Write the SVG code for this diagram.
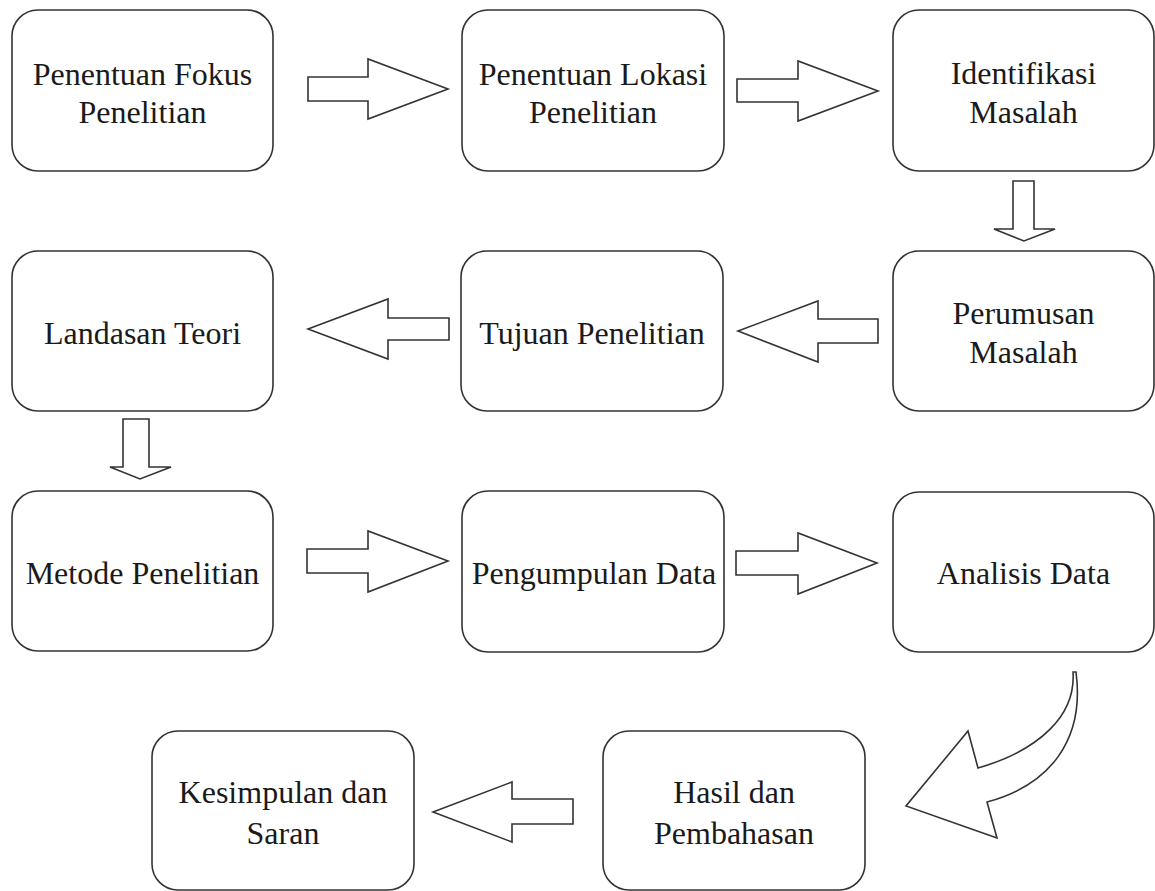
<svg xmlns="http://www.w3.org/2000/svg" width="1155" height="891" viewBox="0 0 1155 891">
<style>
.box{fill:#fff;stroke:#333;stroke-width:1.6}
.arr{fill:#fff;stroke:#333;stroke-width:1.6;stroke-linejoin:miter}
.t{font-family:'Liberation Serif',Tinos,'Times New Roman','DejaVu Serif',serif;font-size:32px;fill:#1a1a1a;text-anchor:middle}
</style>
<rect width="1155" height="891" fill="#fff"/>
<g id="n1"><rect class="box" x="12" y="10" width="261" height="161" rx="26"/><text class="t" x="142.5" y="85">Penentuan Fokus</text><text class="t" x="142.5" y="123">Penelitian</text></g>
<g id="n2"><rect class="box" x="462" y="10" width="262" height="161" rx="26"/><text class="t" x="593" y="85">Penentuan Lokasi</text><text class="t" x="593" y="123">Penelitian</text></g>
<g id="n3"><rect class="box" x="893" y="10" width="261" height="161" rx="26"/><text class="t" x="1023.5" y="84">Identifikasi</text><text class="t" x="1023.5" y="123">Masalah</text></g>
<g id="n4"><rect class="box" x="893" y="251" width="261" height="160" rx="26"/><text class="t" x="1023.5" y="324">Perumusan</text><text class="t" x="1023.5" y="363">Masalah</text></g>
<g id="n5"><rect class="box" x="461" y="251" width="262" height="160" rx="26"/><text class="t" x="592" y="344">Tujuan Penelitian</text></g>
<g id="n6"><rect class="box" x="12" y="251" width="261" height="160" rx="26"/><text class="t" x="142.5" y="344">Landasan Teori</text></g>
<g id="n7"><rect class="box" x="12" y="491" width="261" height="160" rx="26"/><text class="t" x="142.5" y="584">Metode Penelitian</text></g>
<g id="n8"><rect class="box" x="462" y="491" width="262" height="161" rx="26"/><text class="t" x="594" y="584">Pengumpulan Data</text></g>
<g id="n9"><rect class="box" x="893" y="492" width="261" height="160" rx="26"/><text class="t" x="1023.5" y="584">Analisis Data</text></g>
<g id="n10"><rect class="box" x="603" y="731" width="262" height="159" rx="26"/><text class="t" x="734" y="803">Hasil dan</text><text class="t" x="734" y="844">Pembahasan</text></g>
<g id="n11"><rect class="box" x="152" y="731" width="262" height="159" rx="26"/><text class="t" x="283" y="803">Kesimpulan dan</text><text class="t" x="283" y="844">Saran</text></g>
<g id="connectors">
<polygon class="arr" points="308,77 368,77 368,59 448,89 368,119 368,101 308,101"/>
<polygon class="arr" points="737,79 798,79 798,61 878,91 798,121 798,102 737,102"/>
<polygon class="arr" points="1013,181 1034,181 1034,229 1055,229 1024,241 994,229 1013,229"/>
<polygon class="arr" points="878,319 818,319 818,301 738,331 818,362 818,343 878,343"/>
<polygon class="arr" points="449,318 388,318 388,299 308,329 388,359 388,340 449,340"/>
<polygon class="arr" points="123,419 149,419 149,467 171,467 140,479 110,467 123,467"/>
<polygon class="arr" points="307,549 368,549 368,531 448,561 368,592 368,573 307,573"/>
<polygon class="arr" points="736,551 798,551 798,533 877,563 798,594 798,575 736,575"/>
<path class="arr" d="M1073,672 C1076,715 1040,750 978,768 L968,731 L906,806 L997,838 L987,802 C1050,785 1085,740 1076,672 Z"/>
<polygon class="arr" points="573,799 512,799 512,782 433,812 512,842 512,824 573,824"/>
</g>
</svg>
